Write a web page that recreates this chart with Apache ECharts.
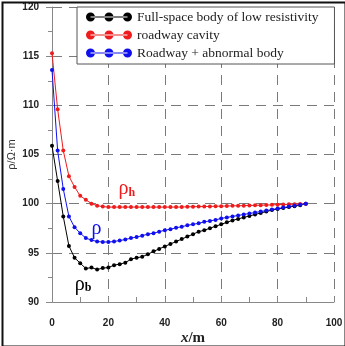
<!DOCTYPE html>
<html>
<head>
<meta charset="utf-8">
<script src="https://cdn.jsdelivr.net/npm/echarts@6/dist/echarts.min.js"></script>
<style>
html, body { margin: 0; padding: 0; background: #fff; }
#main { width: 345px; height: 346px; }
</style>
</head>
<body>
<div id="main"></div>
<script>
// x positions (m)
var xs = [0, 2, 4, 6, 8, 10, 12, 14, 16, 18, 20, 22, 24, 26, 28, 30, 32, 34, 36, 38, 40, 42, 44,
	46, 48, 50, 52, 54, 56, 58, 60, 62, 64, 66, 68, 70, 72, 74, 76, 78, 80, 82, 84, 86, 88, 90];

// full-space body of low resistivity (rho_b)
var rhoB = [105.9, 102.3, 98.7, 95.7, 94.5, 93.95, 93.4, 93.5, 93.3, 93.45, 93.5, 93.75, 93.85,
	94.0, 94.35, 94.5, 94.6, 94.85, 95.15, 95.4, 95.65, 95.9, 96.15, 96.4, 96.65, 96.9, 97.15,
	97.3, 97.5, 97.7, 97.9, 98.1, 98.3, 98.45, 98.6, 98.75, 98.9, 99.05, 99.2, 99.35, 99.45,
	99.55, 99.65, 99.75, 99.85, 100.0];

// roadway cavity (rho_h)
var rhoH = [115.3, 109.6, 105.4, 102.8, 101.7, 100.8, 100.4, 100.0, 99.8, 99.7, 99.65, 99.65,
	99.65, 99.65, 99.65, 99.65, 99.65, 99.65, 99.65, 99.65, 99.65, 99.65, 99.65, 99.66, 99.68,
	99.69, 99.7, 99.71, 99.72, 99.74, 99.75, 99.76, 99.78, 99.79, 99.8, 99.82, 99.83, 99.85,
	99.86, 99.88, 99.9, 99.92, 99.93, 99.95, 99.97, 100.0];

// roadway + abnormal body (rho)
var rho = [113.6, 105.4, 101.5, 98.7, 97.6, 97.0, 96.5, 96.3, 96.15, 96.1, 96.1, 96.15, 96.25,
	96.35, 96.5, 96.6, 96.75, 96.9, 97.0, 97.15, 97.3, 97.4, 97.55, 97.65, 97.8, 97.9, 98.0,
	98.15, 98.25, 98.35, 98.5, 98.6, 98.7, 98.8, 98.9, 99.0, 99.1, 99.2, 99.3, 99.4, 99.5,
	99.6, 99.7, 99.8, 99.9, 100.0];

var seriesNames = ['Full-space body of low resistivity', 'roadway cavity', 'Roadway + abnormal body'];
var seriesColors = ['#000000', '#ee1c1c', '#1010ee'];

function pairs(ys) {
	var out = [];
	xs.forEach(function (x, i) {
		out.push([x, ys[i]]);
	});
	return out;
}

// line with three dots, used as legend icon
var legendIcon = 'path://M0,4.5a4.5,4.5 0 1,0 9,0a4.5,4.5 0 1,0 -9,0Z' +
	'M18.5,4.5a4.5,4.5 0 1,0 9,0a4.5,4.5 0 1,0 -9,0Z' +
	'M37,4.5a4.5,4.5 0 1,0 9,0a4.5,4.5 0 1,0 -9,0Z' +
	'M4.5,4L41.5,4L41.5,5L4.5,5Z';

var gridDash = {
	show: true,
	lineStyle: { color: '#7a7a7a', type: [10, 7], width: 1 }
};

function curveLabel(coord, main, sub, color) {
	return {
		symbol: 'circle',
		symbolSize: 0,
		data: [{ coord: coord }],
		label: {
			show: true,
			position: 'inside',
			formatter: sub ? '{a|' + main + '}{b|' + sub + '}' : '{a|' + main + '}',
			rich: {
				a: { fontFamily: 'Liberation Serif', fontSize: 20, color: color },
				b: { fontFamily: 'Liberation Serif', fontSize: 12, fontWeight: 'bold', color: color, padding: [8, 0, 0, 0] }
			}
		}
	};
}

var series = [
	{ data: rhoB, mark: curveLabel([11, 91.8], 'ρ', 'b', '#000') },
	{ data: rhoH, mark: curveLabel([26.5, 101.5], 'ρ', 'h', '#ee1c1c') },
	{ data: rho, mark: curveLabel([15.8, 97.5], 'ρ', '', '#1010ee') }
].map(function (s, i) {
	return {
		name: seriesNames[i],
		type: 'line',
		data: pairs(s.data),
		symbol: 'circle',
		symbolSize: 4,
		showSymbol: true,
		lineStyle: { width: 1, color: seriesColors[i] },
		itemStyle: { color: seriesColors[i] },
		markPoint: s.mark,
		animation: false
	};
});

var option = {
	backgroundColor: '#fff',
	animation: false,
	grid: { left: 52, right: 11, top: 7, bottom: 44, outerBoundsMode: 'none' },
	legend: {
		orient: 'vertical',
		left: 77,
		top: 7,
		padding: [3, 16, 4, 9],
		itemGap: 4,
		itemWidth: 46,
		itemHeight: 9,
		icon: legendIcon,
		borderColor: '#555',
		borderWidth: 1,
		backgroundColor: '#fff',
		textStyle: { fontFamily: 'Liberation Serif', fontSize: 13.5, color: '#222' },
		data: seriesNames
	},
	xAxis: {
		type: 'value',
		min: 0,
		max: 100,
		interval: 20,
		name: '{i|x}{n|/m}',
		nameLocation: 'middle',
		nameMoveOverlap: false,
		nameGap: 29,
		nameTextStyle: {
			rich: {
				i: { fontFamily: 'Liberation Serif', fontSize: 15, fontWeight: 'bold', fontStyle: 'italic', color: '#222' },
				n: { fontFamily: 'Liberation Serif', fontSize: 15, fontWeight: 'bold', color: '#222' }
			}
		},
		axisLine: { show: true, onZero: false, lineStyle: { color: '#888' } },
		axisTick: { show: true, inside: true, length: 5, lineStyle: { color: '#888' } },
		minorTick: { show: true, splitNumber: 2, length: 5, lineStyle: { color: '#888' } },
		axisLabel: { margin: 16, fontFamily: 'Liberation Sans', fontWeight: 'bold', fontSize: 10, color: '#222' },
		splitLine: gridDash
	},
	yAxis: {
		type: 'value',
		min: 90,
		max: 120,
		interval: 5,
		name: 'ρ/Ω·m',
		nameLocation: 'middle',
		nameMoveOverlap: false,
		nameGap: 35,
		nameTextStyle: { fontFamily: 'Liberation Sans', fontSize: 11, color: '#333' },
		axisLine: { show: true, onZero: false, lineStyle: { color: '#888' } },
		axisTick: { show: true, inside: false, length: 6, lineStyle: { color: '#888' } },
		minorTick: { show: true, splitNumber: 2, length: 4, lineStyle: { color: '#888' } },
		axisLabel: { margin: 13, fontFamily: 'Liberation Sans', fontWeight: 'bold', fontSize: 10, color: '#222' },
		splitLine: gridDash
	},
	graphic: [{
		type: 'rect',
		left: 0,
		top: 0,
		shape: { x: 1, y: 1, width: 343, height: 344 },
		style: { fill: 'none', stroke: '#111', lineWidth: 2 },
		z: 100
	}],
	series: series
};

var chart = echarts.init(document.getElementById('main'), null, { renderer: 'canvas' });
chart.setOption(option);
</script>
</body>
</html>
